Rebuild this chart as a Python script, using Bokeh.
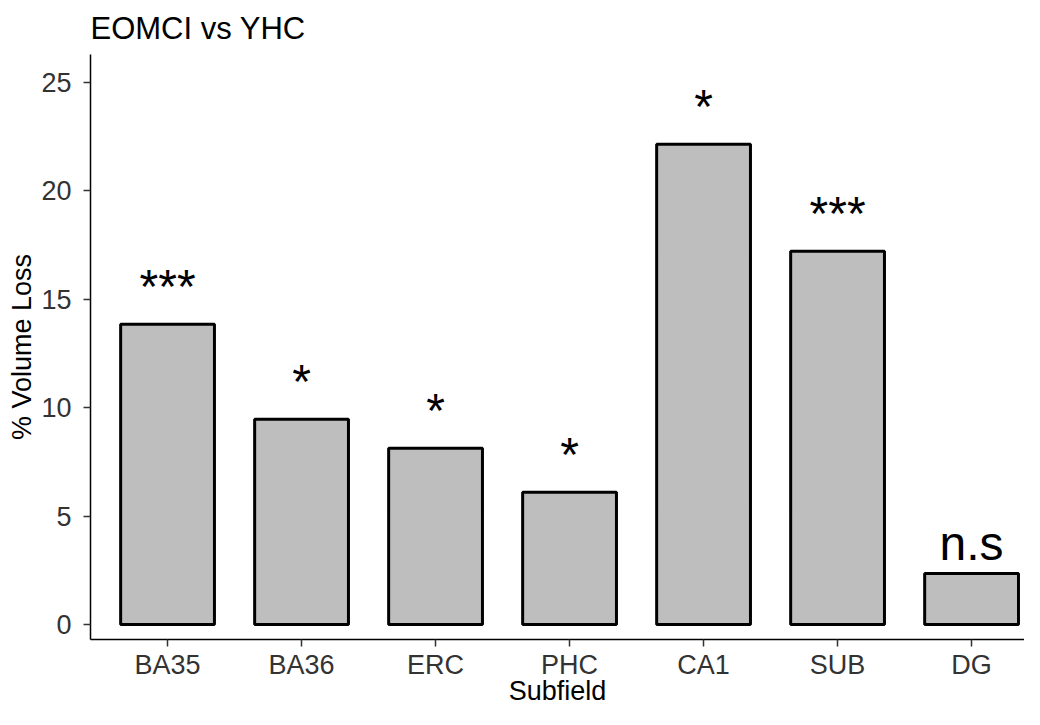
from bokeh.plotting import figure
from bokeh.models import Range1d, FixedTicker
from bokeh.core.properties import value
from bokeh.embed import file_html
from bokeh.resources import INLINE

subfields = ["BA35", "BA36", "ERC", "PHC", "CA1", "SUB", "DG"]
volume_loss = [13.85, 9.47, 8.13, 6.1, 22.15, 17.22, 2.35]
significance = ["***", "*", "*", "*", "*", "***", "n.s"]
y_ticks = [0, 5, 10, 15, 20, 25]

FONT = "Liberation Sans"
xs = list(range(1, len(subfields) + 1))

p = figure(width=1024, height=709,
           x_range=Range1d(0.425, 7.395), y_range=Range1d(-0.69, 26.29),
           output_backend="svg", toolbar_location=None,
           min_border_left=90, min_border_right=0,
           min_border_top=54, min_border_bottom=70,
           title="EOMCI vs YHC")

p.vbar(x=xs, top=volume_loss, width=0.7, bottom=0,
       fill_color="#BEBEBE", line_color="black", line_width=3)

# label baseline offset above the bar (asterisks sit lower in this font)
label_y = [v + (1.4 if s == "n.s" else 1.75) for v, s in zip(volume_loss, significance)]
p.text(x=xs, y=label_y, text=significance, text_align="center",
       text_baseline="alphabetic", text_font_size="48px",
       text_font=value(FONT), text_color="black")

p.title.text_font = FONT
p.title.text_font_size = "31px"
p.title.text_font_style = "normal"
p.title.text_color = "black"
p.title.align = "left"
p.title.standoff = 17

p.xgrid.visible = False
p.ygrid.visible = False
p.outline_line_color = None
p.background_fill_color = "white"
p.border_fill_color = "white"

p.xaxis.ticker = FixedTicker(ticks=xs)
p.xaxis.major_label_overrides = {x: s for x, s in zip(xs, subfields)}
p.yaxis.ticker = FixedTicker(ticks=y_ticks)

for ax in (p.xaxis, p.yaxis):
    ax.axis_line_color = "black"
    ax.axis_line_width = 1.5
    ax.major_tick_line_color = "#333333"
    ax.major_tick_line_width = 1.5
    ax.major_tick_out = 7
    ax.major_tick_in = 0
    ax.minor_tick_line_color = None
    ax.major_label_text_font = FONT
    ax.major_label_text_font_size = "27px"
    ax.major_label_text_color = "#333333"
    ax.axis_label_text_font = FONT
    ax.axis_label_text_font_size = "27px"
    ax.axis_label_text_font_style = "normal"
    ax.axis_label_text_color = "black"

p.xaxis.axis_label = "Subfield"
p.yaxis.axis_label = "% Volume Loss"
p.xaxis.major_label_standoff = 3
p.yaxis.major_label_standoff = 12
p.xaxis.axis_label_standoff = -7
p.yaxis.axis_label_standoff = 1

open("out.html", "w").write(file_html(p, INLINE))
